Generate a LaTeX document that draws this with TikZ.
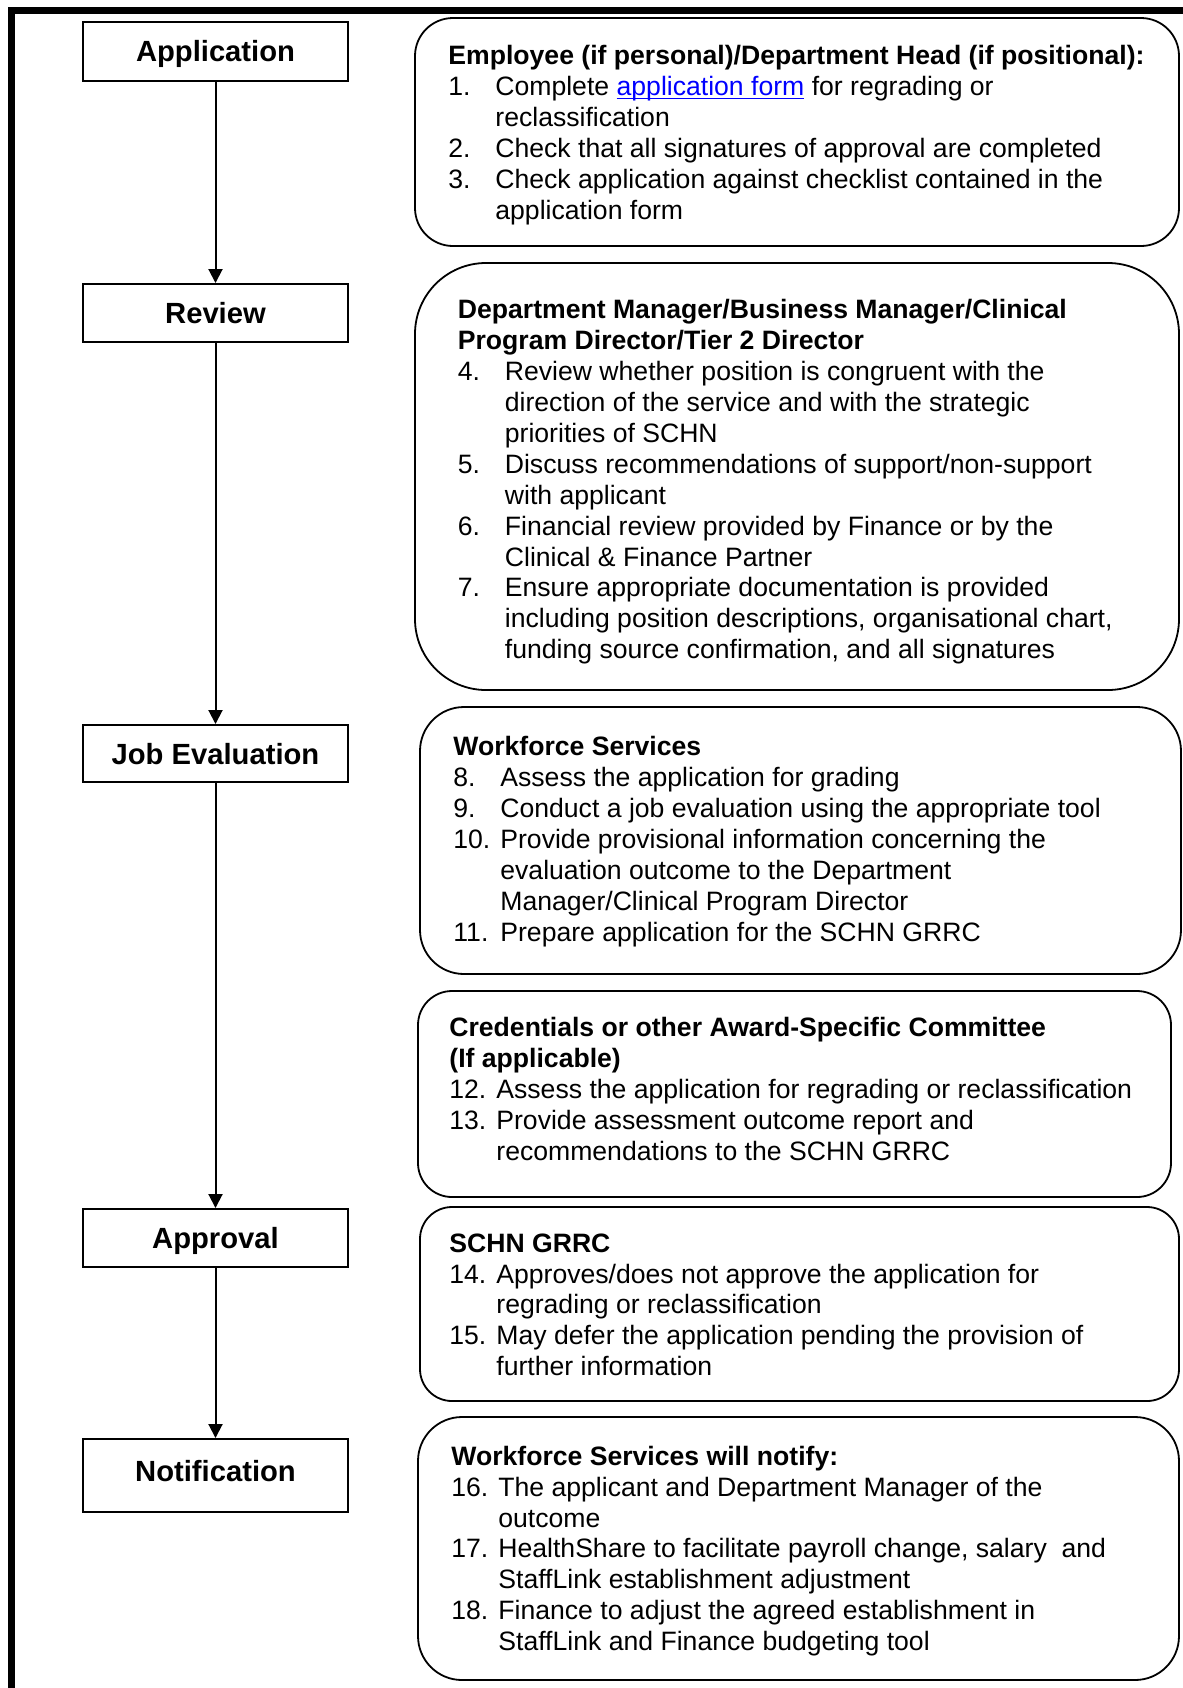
\documentclass[tikz,border=0pt]{standalone}
\usepackage{fontspec}
\setmainfont{Liberation Sans}
\usetikzlibrary{arrows.meta}
\newcommand{\nitem}[1]{\makebox[23.5pt][l]{#1}}
\newcommand{\cnt}{\hspace*{23.5pt}}
\newcommand{\fst}{\rule{0pt}{12pt}}
\newcommand{\ulink}[1]{\leavevmode\setbox0\hbox{#1}\rlap{\rule[-1.6pt]{\wd0}{0.7pt}}\box0}
\tikzset{
  stage/.style={draw, line width=1pt, minimum width=132.5pt, inner sep=0pt,
    text height=10.5pt, text depth=0pt,
    font=\fontsize{14.6}{17}\selectfont\bfseries},
  rbox/.style={draw, line width=0.9pt, minimum width=#1, inner sep=0pt},
  body/.style={anchor=north west, inner sep=0pt, align=left,
    font=\fontsize{13.3}{15.45}\selectfont},
  flow/.style={line width=1pt, -{Triangle[width=7pt,length=7pt]}}
}
\begin{document}
\begin{tikzpicture}[x=0.5pt,y=-0.5pt]
\useasboundingbox (0,0) rectangle (1183,1688);
% page border
\draw[line width=3.5pt, line join=miter] (11.5,1688) -- (11.5,10.5) -- (1183,10.5);

% left stages
\node[stage, minimum height=29.75pt] (app) at (215.5,51.25) {Application};
\node[stage, minimum height=29pt] (rev) at (215.5,313) {Review};
\node[stage, minimum height=28.5pt] (job) at (215.5,753.5) {Job Evaluation};
\node[stage, minimum height=29pt] (apv) at (215.5,1238) {Approval};
\node[stage, minimum height=36.5pt, text depth=5pt] (ntf) at (215.5,1475.5) {Notification};

\draw[flow] (app) -- (rev);
\draw[flow] (rev) -- (job);
\draw[flow] (job) -- (apv);
\draw[flow] (apv) -- (ntf);

% right rounded boxes
\node[rbox=382pt, minimum height=114pt, rounded corners=19pt] (r1) at (797,132) {};
\node[rbox=382pt, minimum height=213.5pt, rounded corners=35.5pt] (r2) at (797,476.5) {};
\node[rbox=380.5pt, minimum height=133.5pt, rounded corners=22pt] (r3) at (800.5,840.5) {};
\node[rbox=376.5pt, minimum height=103pt, rounded corners=17pt] (r4) at (794.5,1094) {};
\node[rbox=379.5pt, minimum height=97pt, rounded corners=16pt] (r5) at (799.5,1304) {};
\node[rbox=380.5pt, minimum height=131.5pt, rounded corners=22pt] (r6) at (798.5,1548.5) {};

% texts
\node[body] (t1) at (448,40.4) {\fst\textbf{Employee (if personal)/Department Head (if positional):}\\
\nitem{1.}Complete \textcolor{blue}{\ulink{application form}} for regrading or\\
\cnt reclassification\\
\nitem{2.}Check that all signatures of approval are completed\\
\nitem{3.}Check application against checklist contained in the\\
\cnt application form};

\node[body] (t2) at (457.5,294.4) {\fst\textbf{Department Manager/Business Manager/Clinical}\\
\textbf{Program Director/Tier 2 Director}\\
\nitem{4.}Review whether position is congruent with the\\
\cnt direction of the service and with the strategic\\
\cnt priorities of SCHN\\
\nitem{5.}Discuss recommendations of support/non-support\\
\cnt with applicant\\
\nitem{6.}Financial review provided by Finance or by the\\
\cnt Clinical \& Finance Partner\\
\nitem{7.}Ensure appropriate documentation is provided\\
\cnt including position descriptions, organisational chart,\\
\cnt funding source confirmation, and all signatures};

\node[body] (t3) at (453,731.4) {\fst\textbf{Workforce Services}\\
\nitem{8.}Assess the application for grading\\
\nitem{9.}Conduct a job evaluation using the appropriate tool\\
\nitem{10.}Provide provisional information concerning the\\
\cnt evaluation outcome to the Department\\
\cnt Manager/Clinical Program Director\\
\nitem{11.}Prepare application for the SCHN GRRC};

\node[body] (t4) at (449,1012.4) {\fst\textbf{Credentials or other Award-Specific Committee}\\
\textbf{(If applicable)}\\
\nitem{12.}Assess the application for regrading or reclassification\\
\nitem{13.}Provide assessment outcome report and\\
\cnt recommendations to the SCHN GRRC};

\node[body] (t5) at (449,1227.7) {\fst\textbf{SCHN GRRC}\\
\nitem{14.}Approves/does not approve the application for\\
\cnt regrading or reclassification\\
\nitem{15.}May defer the application pending the provision of\\
\cnt further information};

\node[body] (t6) at (451,1440.8) {\fst\textbf{Workforce Services will notify:}\\
\nitem{16.}The applicant and Department Manager of the\\
\cnt outcome\\
\nitem{17.}HealthShare to facilitate payroll change, salary\ \ and\\
\cnt StaffLink establishment adjustment\\
\nitem{18.}Finance to adjust the agreed establishment in\\
\cnt StaffLink and Finance budgeting tool};
\end{tikzpicture}
\end{document}
